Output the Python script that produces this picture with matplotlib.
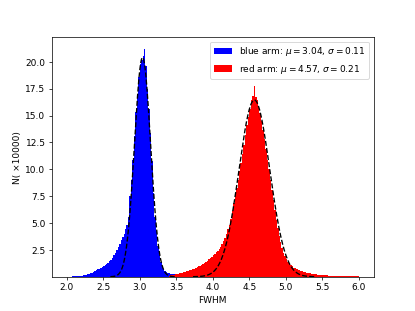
import numpy as np
from matplotlib import pyplot as plt

bin_width = 0.02

# blue arm histogram, bins from 2.00 to 3.60 (units of 10000)
blue_start = 2.00
blue_counts = [
    0.01, 0.01, 0.02, 0.02, 0.03,
    0.03, 0.04, 0.05, 0.06, 0.08,
    0.10, 0.12, 0.15, 0.18, 0.22,
    0.27, 0.32, 0.38, 0.45, 0.52,
    0.60, 0.68, 0.76, 0.84, 0.92,
    1.00, 1.10, 1.20, 1.32, 1.45,
    1.60, 1.78, 1.98, 2.20, 2.45,
    2.75, 3.05, 3.40, 3.70, 4.00,
    4.40, 4.80, 5.60, 7.50, 9.00,
    10.90, 13.10, 15.30, 17.00, 18.60,
    19.80, 20.20, 20.50, 21.20, 19.60,
    17.50, 15.60, 13.40, 10.80, 7.80,
    5.60, 4.30, 2.90, 2.00, 1.40,
    1.00, 0.75, 0.58, 0.46, 0.38,
    0.33, 0.30, 0.27, 0.24, 0.20,
    0.17, 0.14, 0.11, 0.09, 0.07,
]

# red arm histogram, bins from 3.40 to 6.00
red_start = 3.40
red_counts = [
    0.10, 0.13, 0.16, 0.19, 0.22,
    0.25, 0.28, 0.31, 0.34, 0.37,
    0.41, 0.45, 0.49, 0.54, 0.59,
    0.64, 0.70, 0.76, 0.82, 0.89,
    0.96, 1.04, 1.12, 1.21, 1.30,
    1.40, 1.50, 1.61, 1.72, 1.85,
    1.98, 2.12, 2.27, 2.43, 2.60,
    2.80, 3.05, 3.35, 3.65, 4.00,
    4.40, 4.85, 5.40, 6.10, 6.90,
    7.60, 8.30, 9.00, 9.80, 10.60,
    11.40, 12.30, 13.20, 14.10, 14.90,
    15.60, 16.40, 16.80, 17.75, 16.70,
    16.40, 15.90, 15.20, 14.50, 13.70,
    12.80, 11.90, 10.90, 10.00, 9.00,
    8.10, 7.10, 6.20, 5.30, 4.50,
    3.80, 3.20, 2.70, 2.25, 1.90,
    1.62, 1.40, 1.22, 1.08, 0.96,
    0.86, 0.78, 0.71, 0.65, 0.60,
    0.55, 0.50, 0.46, 0.42, 0.38,
    0.34, 0.31, 0.28, 0.26, 0.24,
    0.22, 0.20, 0.18, 0.17, 0.16,
    0.15, 0.14, 0.13, 0.12, 0.11,
    0.10, 0.09, 0.085, 0.08, 0.075,
    0.07, 0.065, 0.06, 0.055, 0.05,
    0.048, 0.045, 0.042, 0.04, 0.038,
    0.035, 0.033, 0.03, 0.028, 0.025,
]

# gaussian fits (mu, sigma, peak height)
blue_fit = (3.04, 0.11, 20.4)
red_fit = (4.57, 0.21, 16.45)


def gauss(fit):
    mu, sig, amp = fit
    x = np.linspace(mu - 4 * sig, mu + 4 * sig, 300)
    return x, amp * np.exp(-0.5 * ((x - mu) / sig) ** 2)


plt.figure(figsize=(6.4, 4.8), dpi=64.85)

bx = blue_start + bin_width * np.arange(len(blue_counts))
rx = red_start + bin_width * np.arange(len(red_counts))
plt.bar(bx, blue_counts, width=bin_width, align='edge', color='blue', linewidth=0,
        label=r'blue arm: $\mu=%.2f$, $\sigma=%.2f$' % blue_fit[:2])
plt.bar(rx, red_counts, width=bin_width, align='edge', color='red', linewidth=0,
        label=r'red arm: $\mu=%.2f$, $\sigma=%.2f$' % red_fit[:2])

plt.plot(*gauss(blue_fit), 'k--')
plt.plot(*gauss(red_fit), 'k--')

plt.xlim(1.8, 6.2)
plt.ylim(0, 22.3)
plt.yticks(np.arange(2.5, 20.1, 2.5))
plt.xlabel('FWHM')
plt.ylabel('N( ×10000)')
plt.legend(loc='upper right')
plt.savefig('out.png')
